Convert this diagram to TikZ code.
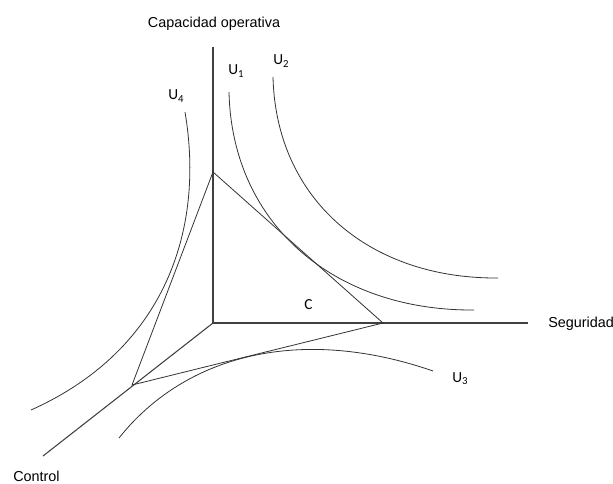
\documentclass[tikz,border=0pt]{standalone}
\usepackage{fontspec}
\setmainfont{Liberation Sans}
\newfontfamily\ufont{Carlito}
\newcommand{\ulab}[1]{{\ufont U\textsubscript{#1}}}
\begin{document}
\begin{tikzpicture}[x=0.75pt,y=-0.75pt,
        axis/.style={black!75,line width=0.8pt},
        edge/.style={black!80,line width=0.6pt},
        curve/.style={black!80,line width=0.6pt},
        axlabel/.style={font=\fontsize{10.8}{12}\selectfont,inner sep=0pt,anchor=base west},
        ulabel/.style={font=\fontsize{11.5}{13}\selectfont,inner sep=0pt,anchor=base west}]
        \useasboundingbox (0,0) rectangle (613,484);
        % ejes
        \coordinate (O) at (213,323);
        \coordinate (ytop) at (213,47);
        \coordinate (xend) at (528,323);
        \coordinate (zend) at (43,456);
        \draw[axis] (ytop) -- (O) -- (xend);
        \draw[axis] (O) -- (zend);
        \node[axlabel,anchor=base] (cap) at (214,28) {Capacidad operativa};
        \node[axlabel] (seg) at (548,327) {Seguridad};
        \node[axlabel] (ctl) at (13,481) {Control};
        % triangulo
        \coordinate (ta) at (213,172);
        \coordinate (tb) at (383,323);
        \coordinate (tc) at (132,385);
        \draw[edge] (ta) -- (tb) -- (tc) -- cycle;
        \node[ulabel] (lc) at (304,309) {\ufont C};
        % curvas de indiferencia
        \draw[curve] (229,92) .. controls (232,225) and (335,311) .. (474,310);
        \draw[curve] (273,77) .. controls (276,200) and (370,279) .. (498,278);
        \draw[curve] (119,438) .. controls (185,355) and (300,325) .. (433,371);
        \draw[curve] (185,112) .. controls (205,230) and (165,350) .. (31,410);
        \node[ulabel] (u1) at (228,75) {\ulab{1}};
        \node[ulabel] (u2) at (273,65) {\ulab{2}};
        \node[ulabel] (u3) at (452,382) {\ulab{3}};
        \node[ulabel] (u4) at (168,100) {\ulab{4}};
\end{tikzpicture}
\end{document}
